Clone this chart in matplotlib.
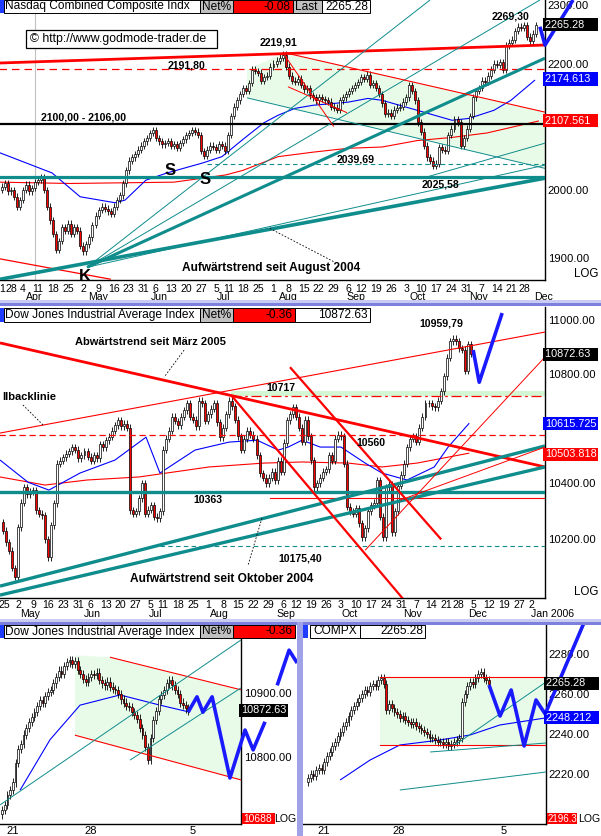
import numpy as np
import matplotlib
matplotlib.use("Agg")
import matplotlib.pyplot as plt
import matplotlib.transforms as mtrans
from matplotlib.patches import Rectangle, Polygon
from matplotlib.ticker import NullLocator, FixedLocator, FixedFormatter

plt.rcParams['font.family'] = ['Liberation Sans', 'DejaVu Sans']

# ------------------------------------------------------------------ data
# Nasdaq daily closes, 23 Mar 2005 .. 2 Dec 2005 (index = trading day)
nas_close = [
    2005, 2010, 1998, 2000, 1990, 1975, 1985, 2000, 2008, 1998,
    2003, 2012, 2015, 2020, 2000, 1975, 1955, 1935, 1912, 1925,
    1945, 1940, 1950, 1935, 1945, 1940, 1918, 1910, 1920, 1930,
    1948, 1962, 1970, 1975, 1972, 1968, 1965, 1975, 1985, 1992,
    2010, 2030, 2045, 2050, 2055, 2062, 2068, 2075, 2080, 2088,
    2092, 2080, 2075, 2070, 2072, 2075, 2068, 2070, 2065, 2072,
    2078, 2084, 2088, 2092, 2090, 2085, 2060, 2052, 2062, 2068,
    2066, 2062, 2070, 2068, 2060, 2085, 2115, 2130, 2140, 2150,
    2160, 2155, 2168, 2190, 2188, 2185, 2172, 2178, 2180, 2195,
    2200, 2205, 2210, 2215, 2195, 2180, 2172, 2170, 2175, 2165,
    2158, 2160, 2148, 2145, 2140, 2145, 2142, 2140, 2138, 2130,
    2128, 2125, 2140, 2145, 2150, 2155, 2160, 2165, 2170, 2178,
    2175, 2182, 2165, 2168, 2160, 2150, 2135, 2118, 2120, 2115,
    2125, 2128, 2130, 2138, 2145, 2165, 2155, 2140, 2105, 2090,
    2068, 2050, 2045, 2037, 2040, 2066, 2062, 2060, 2085, 2095,
    2110, 2105, 2068, 2080, 2095, 2115, 2145, 2155, 2160, 2172,
    2170, 2180, 2190, 2200, 2198, 2202, 2190, 2230, 2235, 2240,
    2255, 2262, 2260, 2265, 2245, 2238, 2250, 2265]
nas_first_open = 2000

# Dow Jones daily closes, 25 Apr 2005 .. 2 Dec 2005
dow_close = [
    10230, 10190, 10160, 10100, 10070, 10243, 10330, 10385, 10360, 10370,
    10375, 10303, 10290, 10285, 10200, 10137, 10250, 10328, 10470, 10480,
    10493, 10505, 10515, 10530, 10520, 10490, 10500, 10515, 10495, 10480,
    10500, 10490, 10540, 10530, 10555, 10567, 10590, 10610, 10628, 10605,
    10615, 10600, 10303, 10290, 10300, 10345, 10400, 10290, 10305, 10320,
    10280, 10275, 10300, 10520, 10560, 10590, 10640, 10625, 10610, 10640,
    10665, 10690, 10640, 10630, 10605, 10700, 10690, 10625, 10650, 10670,
    10690, 10620, 10565, 10600, 10650, 10700, 10680, 10630, 10570, 10520,
    10560, 10590, 10575, 10560, 10500, 10436, 10420, 10400, 10420, 10440,
    10411, 10480, 10440, 10545, 10628, 10650, 10675, 10640, 10600, 10550,
    10630, 10570, 10483, 10385, 10400, 10420, 10440, 10450, 10500, 10480,
    10560, 10575, 10570, 10470, 10315, 10300, 10290, 10310, 10257, 10207,
    10240, 10300, 10320, 10330, 10411, 10280, 10207, 10385, 10395, 10225,
    10300, 10390, 10430, 10470, 10530, 10560, 10570, 10550, 10600, 10640,
    10690, 10690, 10680, 10675, 10700, 10735, 10790, 10860, 10922, 10930,
    10922, 10895, 10890, 10810, 10910, 10875]
dow_first_open = 10260

# Dow Jones intraday bars (bottom left)
dji_intraday = [
    10717, 10725, 10740, 10748, 10760, 10790, 10812, 10820, 10835, 10845,
    10855, 10862, 10870, 10880, 10889, 10885, 10895, 10902, 10905, 10915,
    10925, 10935, 10930, 10942, 10948, 10952, 10945, 10950, 10936, 10930,
    10922, 10918, 10925, 10930, 10928, 10932, 10920, 10915, 10912, 10918,
    10910, 10906, 10905, 10898, 10890, 10885, 10880, 10878, 10870, 10866,
    10860, 10845, 10834, 10815, 10795, 10830, 10858, 10872, 10890, 10897,
    10905, 10915, 10920, 10912, 10905, 10898, 10885, 10881, 10876, 10872]
dji_first_open = 10710

# COMPX intraday bars (bottom right)
compx_intraday = [
    2218, 2220, 2219, 2222, 2223, 2222, 2226, 2229, 2231, 2234,
    2236, 2239, 2241, 2244, 2246, 2249, 2252, 2254, 2256, 2258,
    2260, 2262, 2261, 2264, 2265, 2264, 2267, 2268, 2265, 2252,
    2255, 2253, 2251, 2250, 2248, 2249, 2247, 2246, 2245, 2246,
    2244, 2243, 2242, 2241, 2240, 2238, 2238, 2237, 2236, 2236,
    2235, 2236, 2234, 2235, 2236, 2237, 2238, 2256, 2260, 2264,
    2266, 2265, 2268, 2270, 2271, 2268, 2267, 2265]
compx_first_open = 2216

# date labels
nas_week_idx = [-0.1, 3.0, 7, 12, 17, 22, 27, 32, 37, 42, 47, 51, 56, 61, 66, 71, 75, 80, 85,
                90, 95, 100, 105, 110, 115, 119, 124, 129, 134, 139, 144, 149, 154, 159,
                164, 169, 173]
nas_week_lbl = ["1", "28", "4", "11", "18", "25", "2", "9", "16", "23", "31", "6", "13",
                "20", "27", "5", "11", "18", "25", "1", "8", "15", "22", "29", "6", "12",
                "19", "26", "3", "10", "17", "24", "31", "7", "14", "21", "28"]
nas_month_idx = [10.8, 31.8, 52, 73.6, 94.8, 117.3, 137.9, 158.1, 179.6]
nas_month_lbl = ["Apr", "May", "Jun", "Jul", "Aug", "Sep", "Oct", "Nov", "Dec"]

dow_week_idx = [0.6, 5, 10, 15, 20, 25, 29, 34, 39, 44, 49, 53, 58, 63, 68, 73, 78, 83, 88,
                93, 97, 102, 107, 112, 117, 122, 127, 132, 137, 142, 147, 151, 156, 161,
                166, 171, 175]
dow_week_lbl = ["25", "2", "9", "16", "23", "31", "6", "13", "20", "27", "5", "11", "18",
                "25", "1", "8", "15", "22", "29", "6", "12", "19", "26", "3", "10", "17",
                "24", "31", "7", "14", "21", "28", "5", "12", "19", "27", "2"]
dow_month_idx = [8.9, 29.5, 50.4, 71.8, 93.6, 114.7, 135.6, 157.1, 182]
dow_month_lbl = ["May", "Jun", "Jul", "Aug", "Sep", "Oct", "Nov", "Dec", "Jan 2006"]

dji_day_idx = [4.1, 33, 70.7]
compx_day_idx = [5.9, 33.7, 72.6]
intraday_day_lbl = ["21", "28", "5"]

# axis ticks (levels hidden behind the coloured value boxes are left out)
nas_ticks = [1900, 2000, 2200, 2300]
dow_ticks = [10200, 10400, 10800, 11000]
dji_ticks = [10800, 10900]
compx_ticks = [2220, 2240, 2260, 2280]

# overlays: (index, price)
nas_ma_blue = [(-0.7, 2057), (16.6, 2026), (25.9, 1990), (37.5, 1981), (40.8, 1985),
               (47.7, 2015), (54.7, 2026), (66.3, 2041), (72.9, 2051), (79.9, 2078),
               (86.8, 2104), (91.5, 2116), (97.1, 2127), (103.1, 2132), (114.7, 2137),
               (121.3, 2143), (126, 2140), (137.6, 2124), (149.2, 2108), (154.8, 2111),
               (163.1, 2124), (168.7, 2140), (176.7, 2173)]
nas_ma_red = [(-0.7, 2012), (22.5, 2010), (57, 2012), (74.2, 2023), (79.9, 2030),
              (91.5, 2051), (103.1, 2058), (114.7, 2064), (126, 2066), (137.6, 2076),
              (149.2, 2081), (160.8, 2088), (178, 2107)]
nas_red_resist = [(-0.66, 2201), (180, 2231)]
nas_old_down = [(-0.66, 1899), (36.1, 1870)]
nas_trend_aug04 = [(-0.66, 1870), (180, 2018)]
nas_k_thick = [(28.2, 1887), (180, 2209)]
nas_k_fan = [[(28.2, 1887), (141.9, 2308)], [(28.2, 1887), (178.3, 2308)],
             [(28.2, 1887), (180, 2038)]]
nas_low_line = [(140.9, 2020), (180, 2072)]
nas_green = [(81.2, 2190), (93.8, 2218), (180, 2121), (180, 2033), (81.2, 2144)]
nas_steep = [[(93.1, 2218), (110, 2098)], [(94.8, 2162), (114.4, 2120)]]
nas_projection = [(178.3, 2262), (180, 2231), (189.3, 2308)]
nas_levels = {"2191": 2191.8, "2100": 2102, "2020": 2020, "2039": 2039.69}
nas_last, nas_ma50_last, nas_ma200_last = 2265.28, 2174.613, 2107.561

dow_ma_blue = [(-1, 10483), (8.3, 10403), (15.2, 10375), (25.5, 10436), (37.1, 10483),
               (47.4, 10566), (52, 10436), (63.6, 10519), (70.6, 10537), (74.9, 10548),
               (84.2, 10555), (91.2, 10519), (94.5, 10530), (99.1, 10555), (105.1, 10530),
               (112, 10530), (120, 10472), (125.6, 10436), (133.9, 10411), (142.9, 10458),
               (147.5, 10530), (154.5, 10617)]
dow_ma_red = [(-1, 10422), (13.9, 10393), (27.8, 10411), (45.1, 10422), (68.3, 10458),
              (86.5, 10472), (99.1, 10476), (114.4, 10472), (125.6, 10458), (137.2, 10472),
              (154.5, 10508)]
dow_downtrend = [(-1, 10915), (179.6, 10458)]
dow_pullback = [(-1, 10581), (179.6, 10956)]
dow_up_a = [(-1, 10037), (179.6, 10534)]
dow_up_b = [(-1, 10006), (179.6, 10458)]
dow_steep = [[(75.6, 10720), (132.8, 9990)], [(95.1, 10824), (145.2, 10200)]]
dow_thin_up = [[(120, 10162), (179.6, 10862)], [(131.6, 10339), (179.6, 10530)]]
dow_projection = [(155.8, 10888), (157.8, 10768), (165.4, 11028)]
dow_levels = {"10560": 10573, "10717": 10717, "10363": 10368, "10346": 10346, "10175": 10175.4}
dow_last, dow_ma50_last, dow_ma200_last = 10872.63, 10615.725, 10503.818

dji_green = [(27, 10959), (40, 10956), (88.5, 10905), (88.5, 10764), (27, 10834)]
dji_channel = [[(40, 10956), (88.5, 10905)], [(27, 10834), (88.5, 10764)]]
dji_teal = [[(-0.7, 10725), (88.5, 10983)], [(47.4, 10795), (88.5, 10908)]]
dji_ma_blue = [(6.7, 10748), (17.8, 10827), (28.9, 10881), (43.7, 10897), (58.5, 10881),
               (69.6, 10870)]
dji_projection = [[(68.9, 10870), (72.2, 10894), (74.4, 10870), (77.8, 10894), (84.4, 10767),
                   (90, 10842), (93, 10811), (97.4, 10855)],
                  [(101.9, 10912), (106.3, 10967), (109.3, 10947)]]

compx_box = (26.7, 88.1, 2234.5, 2268.5)
compx_ma_blue = [(11.9, 2217), (23, 2227), (34, 2234.5), (48.9, 2237), (60, 2239.5),
                 (71, 2244.5), (87.8, 2248)]
compx_teal = [[(54.4, 2234.5), (88.1, 2266)], [(45.2, 2231), (88.1, 2235.5)],
              [(34, 2212), (88.1, 2221)]]
compx_projection = [(67, 2264.5), (71.1, 2249), (75.2, 2262), (80, 2234), (84.4, 2257),
                    (87.8, 2250), (102.6, 2297)]
compx_ma_last = 2248.212

# ------------------------------------------------------------------ styles
W, H = 601, 836
TEAL = '#0f8c8c'
RED = '#ff0000'
BLUE = '#0000ff'
PROJ = '#1a1aff'
GREEN = '#e8fbe8'

fig = plt.figure(figsize=(W / 100, H / 100), dpi=100)
fig.patch.set_facecolor('white')


def add_panel(x0, y0, x1, y1, xlim, ylim, log, ticks):
    ax = fig.add_axes([x0 / W, 1 - y1 / H, (x1 - x0) / W, (y1 - y0) / H])
    ax.set_facecolor('white')
    for s in ('top', 'left'):
        ax.spines[s].set_visible(False)
    for s in ('right', 'bottom'):
        ax.spines[s].set_color('black')
        ax.spines[s].set_linewidth(1.0)
    if log:
        ax.set_yscale('log')
    ax.set_xlim(*xlim)
    ax.set_ylim(*ylim)
    ax.set_xticks([])
    ax.yaxis.tick_right()
    ax.yaxis.set_major_locator(FixedLocator(ticks))
    ax.yaxis.set_major_formatter(FixedFormatter([f"{t:.2f}" for t in ticks]))
    ax.yaxis.set_minor_locator(NullLocator())
    ax.tick_params(axis='y', length=0, pad=2, labelsize=8.1)
    return ax


def draw_candles(ax, closes, first_open, wick, width=0.66):
    c = np.asarray(closes, float)
    o = np.r_[first_open, c[:-1]]
    x = np.arange(len(c))
    top = np.maximum(o, c)
    bot = np.minimum(o, c)
    ax.vlines(x, bot * (1 - wick), top * (1 + wick), colors='black', lw=0.6, zorder=4)
    h = np.maximum(top - bot, top * wick * 0.2)
    cols = np.where(c >= o, 'white', RED)
    ax.bar(x, h, width, bottom=bot, color=cols, edgecolor='black', linewidth=0.5, zorder=5)


def seg(ax, pts, color, lw, ls='-', z=6, clip=True):
    xs, ys = zip(*pts)
    ax.plot(xs, ys, color=color, lw=lw, ls=ls, zorder=z, clip_on=clip,
            solid_capstyle='butt')


def hline(ax, y, x0, x1, color, lw, ls='-', z=6):
    ax.plot([x0, x1], [y, y], color=color, lw=lw, ls=ls, zorder=z)


def side_box(ax, val, text, fc, tc='white', width=9):
    tr = mtrans.blended_transform_factory(ax.transAxes, ax.transData)
    pad = '\u2007' * max(0, width - len(text))
    ax.text(1.0, val, text + pad, transform=tr, ha='left', va='center', fontsize=7.8,
            color=tc, zorder=30, clip_on=False,
            bbox=dict(boxstyle='square,pad=0.15', fc=fc, ec='none'))


def date_labels(ax, idx, lbls, yfrac, fs=7.6):
    tr = mtrans.blended_transform_factory(ax.transData, ax.transAxes)
    for i, s in zip(idx, lbls):
        ax.text(i, yfrac, s, transform=tr, ha='center', va='center', fontsize=fs,
                clip_on=False)


def note(ax, x, y, s, fs=7.6, **kw):
    ax.text(x, y, s, fontsize=fs, fontweight='bold', ha=kw.pop('ha', 'center'),
            va='center', zorder=12, **kw)


# ------------------------------------------------------------------ panel 1 Nasdaq
ax1 = add_panel(0, 0, 545, 280, (-0.66, 180), (1869, 2308), True, nas_ticks)
ax1.axvline(10.9, color='#c0c0c0', lw=0.8, zorder=1)
ax1.add_patch(Polygon(nas_green, closed=True, fc=GREEN, ec='none', zorder=1))
seg(ax1, nas_ma_red, RED, 0.8, z=3)
seg(ax1, nas_ma_blue, BLUE, 0.8, z=3)
draw_candles(ax1, nas_close, nas_first_open, 0.0025)
hline(ax1, nas_levels["2191"], -1, 181, RED, 0.9, (0, (6, 4)))
hline(ax1, nas_levels["2100"], -1, 181, 'black', 1.6)
hline(ax1, nas_levels["2020"], -1, 181, TEAL, 2.3)
hline(ax1, nas_levels["2039"], 68, 181, TEAL, 0.8, (0, (4, 3)))
seg(ax1, nas_red_resist, RED, 2.0)
seg(ax1, nas_old_down, RED, 0.9)
seg(ax1, nas_trend_aug04, TEAL, 2.6)
seg(ax1, nas_k_thick, TEAL, 2.2)
for ln in nas_k_fan:
    seg(ax1, ln, TEAL, 0.7)
seg(ax1, nas_low_line, TEAL, 0.7)
seg(ax1, [nas_green[4], nas_green[3]], TEAL, 0.7)
seg(ax1, [nas_green[1], nas_green[2]], RED, 0.8)
for ln in nas_steep:
    seg(ax1, ln, RED, 0.7)
seg(ax1, [(88.8, 1943), (110.4, 1894)], 'black', 0.6, (0, (2, 2)))
seg(ax1, nas_projection, PROJ, 2.6, z=15, clip=False)
note(ax1, 91.5, 2235, "2219,91")
note(ax1, 61.3, 2197, "2191,80")
note(ax1, 26.9, 2113, "2100,00 - 2106,00")
note(ax1, 117.3, 2046, "2039,69")
note(ax1, 145.2, 2008, "2025,58")
note(ax1, 168.5, 2279, "2269,30")
note(ax1, 89.2, 1886, "Aufwärtstrend seit August 2004", fs=8.6)
note(ax1, 55.7, 2030, "S", fs=12)
note(ax1, 67.3, 2016, "S", fs=12)
note(ax1, 27.5, 1874, "K", fs=12)
side_box(ax1, nas_last, f"{nas_last:.2f}", 'black')
side_box(ax1, nas_ma50_last, f"{nas_ma50_last:.3f}", BLUE)
side_box(ax1, nas_ma200_last, f"{nas_ma200_last:.3f}", RED)
date_labels(ax1, nas_week_idx, nas_week_lbl, -0.031)
date_labels(ax1, nas_month_idx, nas_month_lbl, -0.062)

# ------------------------------------------------------------------ panel 2 Dow
ax2 = add_panel(0, 307, 545, 598, (-1, 179.6), (9996, 11051), True, dow_ticks)
ax2.fill_between([75.6, 180], dow_levels["10717"], 10735, color='#d2f7d2', lw=0, zorder=1)
seg(ax2, dow_ma_red, RED, 0.8, z=3)
seg(ax2, dow_ma_blue, BLUE, 0.8, z=3)
draw_candles(ax2, dow_close, dow_first_open, 0.0012)
hline(ax2, dow_levels["10560"], -2, 181, RED, 0.9, (0, (5, 3)))
hline(ax2, dow_levels["10717"], 75.6, 181, RED, 0.9, (0, (8, 3, 2, 3)))
hline(ax2, dow_levels["10363"], -2, 181, TEAL, 2.4)
hline(ax2, dow_levels["10346"], 88.5, 181, RED, 0.8)
hline(ax2, dow_levels["10175"], 52, 181, TEAL, 0.8, (0, (4, 3)))
seg(ax2, dow_downtrend, RED, 2.0)
seg(ax2, dow_pullback, RED, 0.8)
seg(ax2, dow_up_a, TEAL, 2.4)
seg(ax2, dow_up_b, TEAL, 2.4)
for ln in dow_steep:
    seg(ax2, ln, RED, 1.6)
for ln in dow_thin_up:
    seg(ax2, ln, RED, 0.7)
seg(ax2, [(60, 10888), (53.4, 10787)], 'black', 0.6, (0, (2, 2)))
seg(ax2, [(6.6, 10684), (13.3, 10610)], 'black', 0.6, (0, (2, 2)))
seg(ax2, [(85.8, 10275), (81.2, 10110)], 'black', 0.6, (0, (2, 2)))
seg(ax2, dow_projection, PROJ, 2.6, z=15, clip=False)
note(ax2, 145.2, 10990, "10959,79")
note(ax2, 48.7, 10918, "Abwärtstrend seit März 2005", fs=8)
note(ax2, -0.4, 10713, "llbacklinie", fs=8, ha='left')
note(ax2, 92.1, 10746, "10717")
note(ax2, 122, 10544, "10560")
note(ax2, 68, 10339, "10363")
note(ax2, 98.4, 10134, "10175,40")
note(ax2, 72.3, 10061, "Aufwärtstrend seit Oktober 2004", fs=8.6)
side_box(ax2, dow_last, f"{dow_last:.2f}", 'black')
side_box(ax2, dow_ma50_last, f"{dow_ma50_last:.3f}", BLUE)
side_box(ax2, dow_ma200_last, f"{dow_ma200_last:.3f}", RED)
date_labels(ax2, dow_week_idx, dow_week_lbl, -0.024)
date_labels(ax2, dow_month_idx, dow_month_lbl, -0.056)

# ------------------------------------------------------------------ panel 3 Dow intraday
ax3 = add_panel(0, 624, 241, 824, (-0.74, 88.5), (10695, 11008), False, dji_ticks)
ax3.add_patch(Polygon(dji_green, closed=True, fc=GREEN, ec='none', zorder=1))
seg(ax3, dji_ma_blue, BLUE, 0.8, z=3)
draw_candles(ax3, dji_intraday, dji_first_open, 0.0006)
for ln in dji_channel:
    seg(ax3, ln, RED, 0.8)
for ln in dji_teal:
    seg(ax3, ln, TEAL, 0.7)
for ln in dji_projection:
    seg(ax3, ln, PROJ, 2.6, z=15, clip=False)
side_box(ax3, dow_last, f"{dow_last:.2f}", 'black', width=8)
date_labels(ax3, dji_day_idx, intraday_day_lbl, -0.035, fs=8)

# ------------------------------------------------------------------ panel 4 COMPX intraday
ax4 = add_panel(303, 624, 546, 824, (-1.85, 88.1), (2195, 2295), False, compx_ticks)
i0, i1, v0, v1 = compx_box
ax4.fill_between([i0, i1], v0, v1, color=GREEN, lw=0, zorder=1)
seg(ax4, compx_ma_blue, BLUE, 0.8, z=3)
draw_candles(ax4, compx_intraday, compx_first_open, 0.0008)
hline(ax4, v1, i0, i1, RED, 0.8)
hline(ax4, v0, i0, i1, RED, 0.8)
for ln in compx_teal:
    seg(ax4, ln, TEAL, 0.7)
seg(ax4, compx_projection, PROJ, 2.6, z=15, clip=False)
side_box(ax4, nas_last, f"{nas_last:.2f}", 'black')
side_box(ax4, compx_ma_last, f"{compx_ma_last:.3f}", BLUE)
date_labels(ax4, compx_day_idx, intraday_day_lbl, -0.035, fs=8)

# ------------------------------------------------------------------ frame / headers
ov = fig.add_axes([0, 0, 1, 1], zorder=10)
ov.set_xlim(0, W)
ov.set_ylim(H, 0)
ov.axis('off')
ov.patch.set_alpha(0)


def box(x0, y0, x1, y1, fc, ec='black', lw=0.7):
    ov.add_patch(Rectangle((x0, y0), x1 - x0, y1 - y0, fc=fc, ec=ec, lw=lw))


def btxt(x, y, s, ha='left', color='black', fs=8.6):
    ov.text(x, y, s, ha=ha, va='center', fontsize=fs, color=color)


# separators
for y0 in (300, 619):
    box(0, y0, W, y0 + 3, '#c9cbf2', ec='none')
    box(0, y0 + 3, W, y0 + 6, '#7d80dc', ec='none')
box(297, 622, 303, H, '#9fa2e6', ec='none')

# header panel 1
box(0, 0, 4, 13, '#1f3cff', ec='none')
box(4, 0, 200, 13, 'white')
btxt(5, 6.5, "Nasdaq Combined Composite Indx")
box(200, 0, 233, 13, '#c0c0c0')
btxt(202, 6.5, "Net%")
box(233, 0, 293, 13, RED)
btxt(291, 6.5, "-0.08", ha='right')
box(293, 0, 322, 13, '#c0c0c0')
btxt(295, 6.5, "Last")
box(322, 0, 370, 13, 'white')
btxt(368, 6.5, "2265.28", ha='right')
box(26, 30, 217, 48, 'white', lw=0.9)
btxt(30, 39, "\u00a9 http://www.godmode-trader.de", fs=8.8)

# header panel 2
box(0, 308, 4, 322, '#1f3cff', ec='none')
box(4, 308, 200, 322, 'white')
btxt(5, 315, "Dow Jones Industrial Average Index")
box(200, 308, 233, 322, '#c0c0c0')
btxt(202, 315, "Net%")
box(233, 308, 295, 322, RED)
btxt(293, 315, "-0.36", ha='right')
box(295, 308, 370, 322, 'white')
btxt(368, 315, "10872.63", ha='right')

# header panel 3
box(0, 625, 4, 638, '#1f3cff', ec='none')
box(4, 625, 200, 638, 'white')
btxt(5, 631.5, "Dow Jones Industrial Average Index")
box(200, 625, 233, 638, '#c0c0c0')
btxt(202, 631.5, "Net%")
box(233, 625, 295, 638, RED)
btxt(293, 631.5, "-0.36", ha='right')

# header panel 4
box(303, 625, 308, 638, '#1f3cff', ec='none')
box(310, 625, 360, 638, 'white')
btxt(335, 631.5, "COMPX", ha='center')
box(360, 625, 425, 638, 'white')
btxt(423, 631.5, "2265.28", ha='right')

# LOG markers and bottom boxes
btxt(598, 274, "LOG", ha='right', fs=8.3)
btxt(598, 592, "LOG", ha='right', fs=8.3)
box(242, 813, 275, 824, RED, ec='none')
btxt(243, 818.5, "10688", color='white', fs=7.4)
btxt(296, 818.5, "LOG", ha='right', fs=7.6)
box(547, 813, 577, 824, RED, ec='none')
btxt(548, 818.5, "2196.3", color='white', fs=7.0)
btxt(600, 818.5, "LOG", ha='right', fs=7.6)

fig.savefig("out.png", dpi=100, facecolor='white')
